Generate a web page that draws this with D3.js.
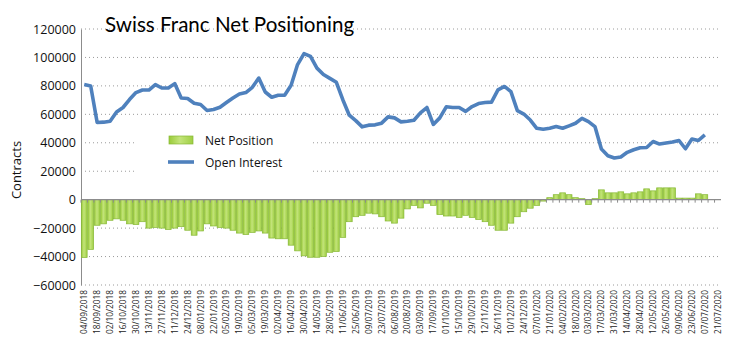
<!DOCTYPE html>
<html>
<head>
<meta charset="utf-8">
<script src="https://cdn.jsdelivr.net/npm/d3@7"></script>
<style>
  body { margin: 0; background: #fff; }
  svg { display: block; font-family: "Open Sans", sans-serif; }
</style>
</head>
<body>
<svg></svg>
<script>
const width = 744;
const height = 353;

// weekly report dates (categories)
const dates = [
  "04/09/2018","11/09/2018","18/09/2018","25/09/2018","02/10/2018","09/10/2018","16/10/2018","23/10/2018",
  "30/10/2018","06/11/2018","13/11/2018","20/11/2018","27/11/2018","04/12/2018","11/12/2018","18/12/2018",
  "24/12/2018","31/12/2018","08/01/2019","15/01/2019","22/01/2019","29/01/2019","05/02/2019","12/02/2019",
  "19/02/2019","26/02/2019","05/03/2019","12/03/2019","19/03/2019","26/03/2019","02/04/2019","09/04/2019",
  "16/04/2019","23/04/2019","30/04/2019","07/05/2019","14/05/2019","21/05/2019","28/05/2019","04/06/2019",
  "11/06/2019","18/06/2019","25/06/2019","02/07/2019","09/07/2019","16/07/2019","23/07/2019","30/07/2019",
  "06/08/2019","13/08/2019","20/08/2019","27/08/2019","03/09/2019","10/09/2019","17/09/2019","24/09/2019",
  "01/10/2019","08/10/2019","15/10/2019","22/10/2019","29/10/2019","05/11/2019","12/11/2019","19/11/2019",
  "26/11/2019","03/12/2019","10/12/2019","17/12/2019","24/12/2019","31/12/2019","07/01/2020","14/01/2020",
  "21/01/2020","28/01/2020","04/02/2020","11/02/2020","18/02/2020","25/02/2020","03/03/2020","10/03/2020",
  "17/03/2020","24/03/2020","31/03/2020","07/04/2020","14/04/2020","21/04/2020","28/04/2020","05/05/2020",
  "12/05/2020","19/05/2020","26/05/2020","02/06/2020","09/06/2020","16/06/2020","23/06/2020","30/06/2020",
  "07/07/2020","14/07/2020","21/07/2020"
];

const netPosition = [
  -40700,-35000,-18000,-17000,-14500,-13500,-14500,-17000,-17500,-15500,
  -20000,-19500,-20000,-21000,-20000,-19000,-21500,-25000,-22000,-17000,
  -18500,-19500,-20000,-21500,-23500,-24500,-23000,-22000,-23500,-27000,
  -27500,-27500,-32000,-36000,-39500,-40500,-40500,-40000,-37000,-36500,
  -26500,-15500,-12000,-11000,-9500,-10000,-12000,-15000,-16500,-13000,
  -6500,-4000,-5800,-2500,-4000,-10500,-11500,-11500,-12500,-11000,
  -12500,-14000,-15500,-18000,-21500,-21500,-16500,-12000,-8500,-6000,
  -4000,-1000,1400,3500,4800,3500,1400,700,-3500,700,
  6900,4800,4800,5500,4100,4800,5500,7600,6200,8300,
  8300,8300,1100,1100,1100,4100,3500
];

const openInterest = [
  80900,79900,54300,54500,55200,61700,64800,70400,75300,77100,
  77100,80900,78500,78500,81600,71500,71100,67800,66900,62700,
  63400,65000,68300,71500,74300,75300,79000,85500,75700,72000,
  73400,73400,80400,95000,102700,100800,92500,88000,85300,82500,
  70300,59400,55600,51200,52400,52600,53800,58200,57500,54700,
  55100,55800,61000,64800,52900,57500,65300,64800,64800,62100,
  65500,67600,68300,68600,77200,79600,76000,62600,60200,56000,
  50200,49500,50200,51400,50200,51900,53700,57200,54900,51400,
  35600,30900,29300,30000,33300,35100,36500,36700,40900,39100,
  39800,40500,41600,35800,42600,41600,45600
];

const yTicks = [-60000,-40000,-20000,0,20000,40000,60000,80000,100000,120000];

const svg = d3.select('svg').attr('width', width).attr('height', height);

const x = d3.scaleBand()
    .domain(dates)
    .range([81, 721])
    .paddingInner(0.1)
    .paddingOuter(0.05);
const y = d3.scaleLinear()
    .domain([-60000, 120000])
    .range([285, 29]);

const defs = svg.append('defs');
const grad = defs.append('linearGradient')
    .attr('id', 'barGrad')
    .attr('x1', 0).attr('y1', 0).attr('x2', 1).attr('y2', 0);
grad.append('stop').attr('offset', '0%').attr('stop-color', '#9acb3a');
grad.append('stop').attr('offset', '45%').attr('stop-color', '#c3e47a');
grad.append('stop').attr('offset', '100%').attr('stop-color', '#9fcf44');

// gridlines
svg.append('g')
    .selectAll('line')
    .data(yTicks.filter(d => d !== 0))
    .enter().append('line')
    .attr('x1', 81).attr('x2', 721)
    .attr('y1', d => y(d)).attr('y2', d => y(d))
    .attr('stroke', '#9a9a9a')
    .attr('stroke-width', 1)
    .attr('stroke-dasharray', '1,3');

// y axis
const yAxis = svg.append('g')
    .attr('transform', 'translate(81,0)')
    .call(d3.axisLeft(y).tickValues(yTicks).tickFormat(d3.format('d')).tickSize(0).tickPadding(5));
yAxis.select('.domain').attr('stroke', '#8c8c8c');
yAxis.selectAll('text').attr('font-size', 12.5).attr('fill', '#111')
    .attr('font-family', '"Open Sans", sans-serif');

// bars
svg.append('g')
    .selectAll('rect')
    .data(netPosition)
    .enter().append('rect')
    .attr('x', (d, i) => x(dates[i]))
    .attr('width', x.bandwidth())
    .attr('y', d => y(Math.max(0, d)))
    .attr('height', d => Math.abs(y(d) - y(0)))
    .attr('fill', 'url(#barGrad)')
    .attr('stroke', '#86b834')
    .attr('stroke-width', 0.7);

// zero axis with category ticks
svg.append('line')
    .attr('x1', 81).attr('x2', 721)
    .attr('y1', y(0)).attr('y2', y(0))
    .attr('stroke', '#8c8c8c').attr('stroke-width', 1.2);
const half = x.step() * x.paddingInner() / 2;
svg.append('g')
    .selectAll('line')
    .data(dates)
    .enter().append('line')
    .attr('x1', d => x(d) - half).attr('x2', d => x(d) - half)
    .attr('y1', y(0)).attr('y2', y(0) + 3)
    .attr('stroke', '#8c8c8c');

// x labels, every other week
svg.append('g')
    .selectAll('text')
    .data(dates.filter((d, i) => i % 2 === 0))
    .enter().append('text')
    .attr('transform', d => `translate(${x(d) + x.bandwidth() / 2 + 3},290) rotate(-90)`)
    .attr('text-anchor', 'end')
    .attr('font-size', 8.3)
    .attr('fill', '#222')
    .text(d => d);

// open interest line
const line = d3.line()
    .x((d, i) => x(dates[i]) + x.bandwidth() / 2)
    .y(d => y(d));
svg.append('path')
    .datum(openInterest)
    .attr('d', line)
    .attr('fill', 'none')
    .attr('stroke', '#4f81bd')
    .attr('stroke-width', 3.6)
    .attr('stroke-linejoin', 'round');

// legend
const legend = svg.append('g');
legend.append('rect')
    .attr('x', 137).attr('y', 124).attr('width', 176).attr('height', 54)
    .attr('fill', '#fff');
legend.append('rect')
    .attr('x', 169).attr('y', 136).attr('width', 24).attr('height', 8)
    .attr('fill', 'url(#barGrad)').attr('stroke', '#86b834').attr('stroke-width', 0.7);
legend.append('line')
    .attr('x1', 168).attr('x2', 194).attr('y1', 162).attr('y2', 162)
    .attr('stroke', '#4f81bd').attr('stroke-width', 3.6);
legend.append('text').attr('x', 205).attr('y', 144.5)
    .attr('font-size', 12).attr('fill', '#111').text('Net Position');
legend.append('text').attr('x', 205).attr('y', 166.5)
    .attr('font-size', 12).attr('fill', '#111').text('Open Interest');

// title
svg.append('text')
    .attr('x', 105).attr('y', 32)
    .attr('font-size', 20.6)
    .attr('fill', '#000')
    .attr('font-family', 'Lato, sans-serif')
    .text('Swiss Franc Net Positioning');

// y axis title
svg.append('text')
    .attr('transform', 'translate(21,170) rotate(-90)')
    .attr('text-anchor', 'middle')
    .attr('font-size', 13)
    .attr('fill', '#111')
    .text('Contracts');
</script>
</body>
</html>
